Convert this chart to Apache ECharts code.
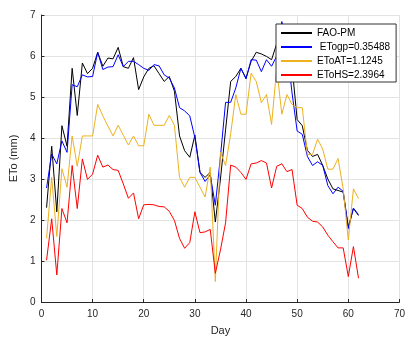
<!DOCTYPE html>
<html><head><meta charset="utf-8">
<script src="https://cdn.jsdelivr.net/npm/echarts@6/dist/echarts.min.js"></script>
<style>html,body{margin:0;padding:0;background:#fff}#c{width:408px;height:341px}</style>
</head><body><div id="c"></div>
<script>
const days = Array.from({length: 62}, (_, i) => i + 1);
const faoPM = [2.3,3.8,2.2,4.3,3.8,5.7,4.55,5.83,5.57,5.7,6.09,5.75,5.95,5.93,6.21,5.74,5.70,5.96,5.18,5.49,5.70,5.76,5.57,5.38,5.50,5.14,4.05,3.69,3.53,4.07,3.16,3.04,3.16,1.95,3.0,4.2,5.38,5.50,5.70,5.46,5.87,6.09,6.05,5.99,5.91,6.3,6.8,6.4,5.75,4.45,4.3,3.7,3.55,3.6,3.33,3.0,2.76,2.72,2.68,1.83,2.28,2.11];
const etoGP = [2.78,3.61,3.37,3.93,3.65,5.30,5.25,5.54,5.49,5.50,6.09,5.67,5.73,5.74,6.03,5.74,5.87,5.87,5.79,5.70,5.65,5.79,5.76,5.54,5.46,5.22,4.74,4.66,4.54,4.01,3.16,2.94,3.10,2.36,3.55,4.87,4.87,5.22,5.70,5.44,5.91,5.90,5.62,5.91,5.75,6.0,6.84,6.2,5.1,4.17,4.09,3.55,3.33,3.42,3.33,2.84,2.64,2.80,2.70,1.79,2.29,2.13];
const etoAT = [1.55,3.04,1.6,3.25,2.8,4.05,3.31,4.05,4.05,4.05,4.82,4.54,4.29,4.05,4.31,4.07,3.83,4.05,3.81,3.81,4.58,4.31,4.31,4.31,4.55,4.31,3.04,2.80,3.04,3.04,2.80,2.56,3.29,0.5,3.65,3.33,4.1,5.06,4.58,4.58,5.58,5.38,4.86,5.06,4.33,5.7,4.58,5.06,4.82,4.74,4.74,3.6,3.6,3.97,3.73,3.24,3.24,3.50,2.76,1.51,2.76,2.52];
const etoHS = [1.02,2.03,0.66,2.28,1.93,3.33,2.28,3.49,2.99,3.12,3.58,3.29,3.34,3.23,3.21,2.88,2.53,2.66,2.03,2.37,2.38,2.37,2.33,2.32,2.21,1.99,1.55,1.31,1.45,2.20,1.69,1.71,1.77,0.7,1.27,1.93,3.34,3.29,3.16,2.99,3.37,3.39,3.45,3.39,2.78,3.31,3.37,3.18,3.23,2.36,2.28,2.07,1.97,1.95,1.83,1.63,1.47,1.32,1.32,0.62,1.35,0.58];
const seriesNames = ['FAO-PM', ' ETogp=0.35488', 'EToAT=1.1245', 'EToHS=2.3964'];
const seriesColors = ['#000000', '#0000ff', '#EDB120', '#ff0000'];
const xTicks = [0, 70, 10];
const yTicks = [0, 7, 1];

const allData = [faoPM, etoGP, etoAT, etoHS];
const font = 'Liberation Sans, Arial, sans-serif';
const chart = echarts.init(document.getElementById('c'), null, {renderer: 'canvas'});
chart.setOption({
  animation: false,
  backgroundColor: '#ffffff',
  grid: {left: 39, right: 4, top: 15, bottom: 37},
  xAxis: {
    type: 'value', min: xTicks[0], max: xTicks[1], interval: xTicks[2],
    name: 'Day', nameLocation: 'middle', nameGap: 23,
    nameTextStyle: {fontFamily: font, fontSize: 11, color: '#262626'},
    axisLine: {lineStyle: {color: '#262626', width: 1}},
    axisTick: {inside: true, length: 3, lineStyle: {color: '#262626'}},
    axisLabel: {fontFamily: font, fontSize: 10, color: '#262626', margin: 7},
    splitLine: {show: true, lineStyle: {color: '#e3e3e3', width: 1}}
  },
  yAxis: {
    type: 'value', min: yTicks[0], max: yTicks[1], interval: yTicks[2],
    name: 'ETo (mm)', nameLocation: 'middle', nameGap: 22,
    nameTextStyle: {fontFamily: font, fontSize: 11, color: '#262626'},
    axisLine: {show: true, lineStyle: {color: '#262626', width: 1}},
    axisTick: {show: true, inside: true, length: 3, lineStyle: {color: '#262626'}},
    axisLabel: {fontFamily: font, fontSize: 10, color: '#262626', margin: 6},
    splitLine: {show: true, lineStyle: {color: '#e3e3e3', width: 1}}
  },
  legend: {
    orient: 'vertical', left: 276, top: 24,
    backgroundColor: '#ffffff', borderColor: '#333333', borderWidth: 1,
    padding: [4, 6, 2, 4], itemWidth: 31, itemHeight: 10, itemGap: 4,
    itemStyle: {opacity: 0},
    textStyle: {fontFamily: font, fontSize: 10, color: '#000'},
    data: seriesNames
  },
  series: allData.map((vals, k) => ({
    name: seriesNames[k], type: 'line', symbol: 'none',
    data: days.map((d, i) => [d, vals[i]]),
    lineStyle: {color: seriesColors[k], width: 1},
    itemStyle: {color: seriesColors[k]}
  }))
});
</script></body></html>
